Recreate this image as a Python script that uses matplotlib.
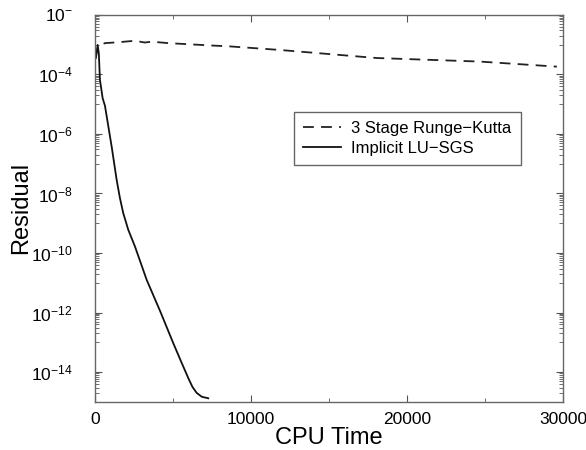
import matplotlib.pyplot as plt
import numpy as np
from matplotlib.ticker import FixedLocator, FixedFormatter

plt.rcParams['font.family'] = ['Liberation Sans', 'DejaVu Sans']
plt.rcParams['mathtext.fontset'] = 'custom'
plt.rcParams['mathtext.rm'] = 'Liberation Sans'
plt.rcParams['mathtext.it'] = 'Liberation Sans:italic'

# residual history, explicit 3-stage Runge-Kutta
rk_time = [0, 210, 640, 1500, 2560, 3200, 3630, 4700, 7480, 8650, 11860,
           18050, 24680, 29600]
rk_log_res = [-3.45, -3.06, -2.95, -2.92, -2.87, -2.93, -2.90, -2.95, -3.03,
              -3.06, -3.18, -3.45, -3.57, -3.74]

# residual history, implicit LU-SGS
lu_time = [60, 109, 173, 250, 320, 494, 641, 1070, 1391, 1600, 1814,
           2135, 2564, 3314, 4200, 5020, 5500, 5980, 6250, 6520, 6850, 7260]
lu_log_res = [-3.45, -3.29, -3.01, -3.30, -4.18, -4.80, -5.05, -6.42,
              -7.54, -8.15, -8.66, -9.22, -9.78, -10.90, -11.98, -13.03,
              -13.62, -14.20, -14.50, -14.70, -14.83, -14.88]

ytick_exp = [-2, -4, -6, -8, -10, -12, -14]
ytick_labels = ['10$^{-}$', '10$^{-4}$', '10$^{-6}$', '10$^{-8}$',
                '10$^{-10}$', '10$^{-12}$', '10$^{-14}$']
xticks = [0, 10000, 20000, 30000]

fig = plt.figure(figsize=(5.86, 4.5), dpi=100)
ax = fig.add_axes([0.162, 0.107, 0.799, 0.86])

ax.semilogy(rk_time, 10.0 ** np.array(rk_log_res), color='#222222', lw=1.3,
            dashes=(6, 4), label='3 Stage Runge\u2212Kutta')
ax.semilogy(lu_time, 10.0 ** np.array(lu_log_res), color='#111111', lw=1.3,
            label='Implicit LU\u2212SGS')

ax.set_xlim(0, 30000)
ax.set_ylim(1e-15, 1e-2)

ax.xaxis.set_major_locator(FixedLocator(xticks))
ax.xaxis.set_minor_locator(FixedLocator([5000, 15000, 25000]))
ax.yaxis.set_major_locator(FixedLocator([10.0 ** e for e in ytick_exp]))
ax.yaxis.set_major_formatter(FixedFormatter(ytick_labels))

# odd decades get a tick plus the 2..9 subdivisions
minor = []
for e in range(-15, -2, 2):
    for k in range(1, 10):
        minor.append(k * 10.0 ** e)
ax.yaxis.set_minor_locator(FixedLocator(minor))
ax.yaxis.set_minor_formatter(FixedFormatter([]))

ax.tick_params(which='both', direction='in', top=True, right=True,
               color='#555555', labelsize=12.5)
ax.tick_params(which='major', length=5, width=0.8)
ax.tick_params(which='minor', length=3, width=0.6)
ax.tick_params(axis='x', pad=7)
ax.tick_params(axis='y', pad=16)
for s in ax.spines.values():
    s.set_color('#666666')
    s.set_linewidth(1.0)

ax.set_xlabel('CPU Time', fontsize=17, labelpad=0)
ax.set_ylabel('Residual', fontsize=17)
ax.yaxis.set_label_coords(-0.135, 0.5)

leg = ax.legend(loc='upper left', bbox_to_anchor=(0.425, 0.749),
                borderaxespad=0, fontsize=12, fancybox=False, framealpha=1,
                edgecolor='#666666', handlelength=2.3, borderpad=0.55,
                labelspacing=0.3, handletextpad=0.6)
leg.get_frame().set_linewidth(1.0)

fig.savefig('out.png', dpi=100)
